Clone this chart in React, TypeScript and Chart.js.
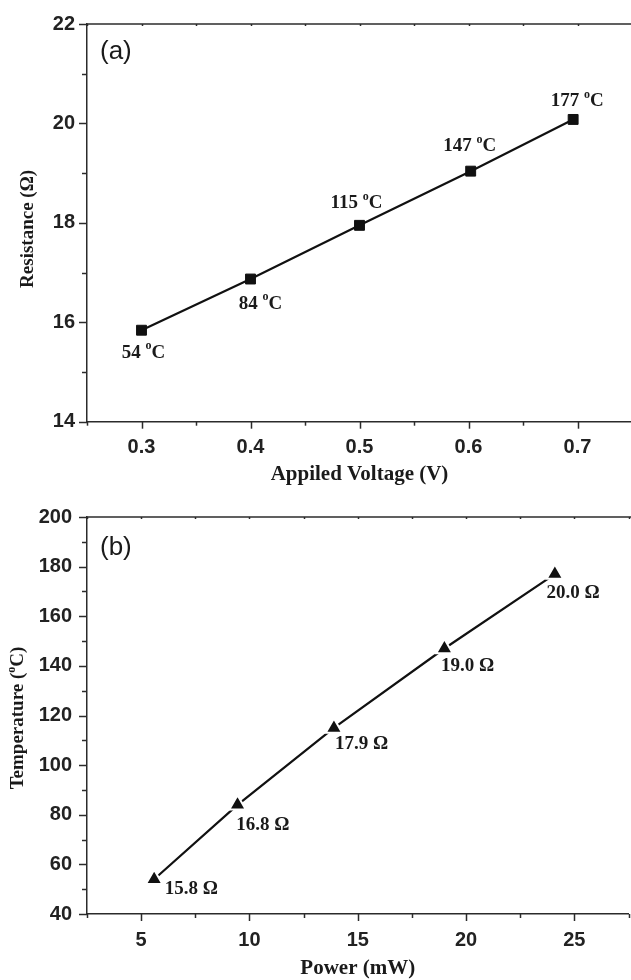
import React, { useEffect, useRef } from 'react';
import { Chart, registerables } from 'chart.js';

Chart.register(...registerables);

// ---- Panel (a): Resistance vs applied voltage ----
const voltage = [0.3, 0.4, 0.5, 0.602, 0.696];
const resistance = [15.84, 16.87, 17.95, 19.04, 20.08];
const tempLabels = ['54', '84', '115', '147', '177'];

const voltageTicks = [0.3, 0.4, 0.5, 0.6, 0.7];
const voltageTickLabels = ['0.3', '0.4', '0.5', '0.6', '0.7'];
const voltageMinor = [0.25, 0.35, 0.45, 0.55, 0.65, 0.75];
const resistanceTicks = [14, 16, 18, 20, 22];
const resistanceTickLabels = ['14', '16', '18', '20', '22'];
const resistanceMinor = [15, 17, 19, 21];

// ---- Panel (b): Temperature vs power ----
const power = [5.6, 9.45, 13.9, 19.0, 24.1];
const temperature = [54, 84, 115, 147, 177];
const resistanceLabels = ['15.8', '16.8', '17.9', '19.0', '20.0'];

const powerTicks = [5, 10, 15, 20, 25];
const powerTickLabels = ['5', '10', '15', '20', '25'];
const powerMinor = [2.5, 7.5, 12.5, 17.5, 22.5, 27.5];
const temperatureTicks = [40, 60, 80, 100, 120, 140, 160, 180, 200];
const temperatureTickLabels = ['40', '60', '80', '100', '120', '140', '160', '180', '200'];
const temperatureMinor = [50, 70, 90, 110, 130, 150, 170, 190];

const AXIS = '#2b2b2b';
const INK = '#1a1a1a';
const SERIF = '"Liberation Serif", "Times New Roman", serif';
const SANS = '"Liberation Sans", Arial, sans-serif';

type Part = { t: string; sup?: boolean };

function measureParts(ctx: CanvasRenderingContext2D, parts: Part[], size: number) {
  let w = 0;
  for (const p of parts) {
    ctx.font = `bold ${p.sup ? Math.round(size * 0.62) : size}px ${SERIF}`;
    w += ctx.measureText(p.t).width;
  }
  return w;
}

function drawParts(ctx: CanvasRenderingContext2D, parts: Part[], x: number, y: number, size: number) {
  ctx.textAlign = 'left';
  ctx.textBaseline = 'middle';
  for (const p of parts) {
    const s = p.sup ? Math.round(size * 0.62) : size;
    ctx.font = `bold ${s}px ${SERIF}`;
    ctx.fillText(p.t, x, p.sup ? y - size * 0.36 : y);
    x += ctx.measureText(p.t).width;
  }
}

function makeDecor(cfg: {
  panel: string;
  panelDy: number;
  xMajor: number[];
  xMinor: number[];
  yMajor: number[];
  yMinor: number[];
  yTitle: Part[];
  yTitleX: number;
  yTitleDy: number;
  labels: Part[][];
  labelOffsets: number[][];
  labelAnchor: 'center' | 'left';
}) {
  return {
    id: 'decor',
    afterDraw(chart: any) {
      const { ctx, chartArea: ca, scales } = chart;
      const xs = scales.x;
      const ys = scales.y;
      ctx.save();
      ctx.strokeStyle = AXIS;
      ctx.lineWidth = 1.5;
      // top frame line
      ctx.beginPath();
      ctx.moveTo(ca.left, ca.top);
      ctx.lineTo(ca.right + 10, ca.top);
      ctx.stroke();
      const yt = (vals: number[], len: number) => {
        for (const v of vals) {
          const p = Math.round(ys.getPixelForValue(v)) + 0.5;
          ctx.beginPath();
          ctx.moveTo(ca.left - len, p);
          ctx.lineTo(ca.left, p);
          ctx.stroke();
        }
      };
      const xt = (vals: number[], len: number) => {
        for (const v of vals) {
          const p = Math.round(xs.getPixelForValue(v)) + 0.5;
          ctx.beginPath();
          ctx.moveTo(p, ca.bottom);
          ctx.lineTo(p, ca.bottom + len);
          ctx.stroke();
          ctx.beginPath();
          ctx.moveTo(p, ca.top);
          ctx.lineTo(p, ca.top + 2);
          ctx.stroke();
        }
      };
      yt(cfg.yMajor, 8);
      yt(cfg.yMinor, 5);
      xt(cfg.xMajor, 7);
      xt(cfg.xMinor, 4);

      // panel letter
      ctx.fillStyle = INK;
      ctx.font = `26px ${SANS}`;
      ctx.textAlign = 'left';
      ctx.textBaseline = 'middle';
      ctx.fillText(cfg.panel, ca.left + 13, ca.top + cfg.panelDy);

      // y title (rotated)
      const ySize = 19;
      const tw = measureParts(ctx, cfg.yTitle, ySize);
      ctx.save();
      ctx.translate(cfg.yTitleX, (ca.top + ca.bottom) / 2 + cfg.yTitleDy);
      ctx.rotate(-Math.PI / 2);
      drawParts(ctx, cfg.yTitle, -tw / 2, 0, ySize);
      ctx.restore();

      // point annotations
      const meta = chart.getDatasetMeta(0);
      const lSize = 19;
      meta.data.forEach((pt: any, i: number) => {
        const parts = cfg.labels[i];
        const [dx, dy] = cfg.labelOffsets[i];
        const w = measureParts(ctx, parts, lSize);
        const x0 = cfg.labelAnchor === 'center' ? pt.x + dx - w / 2 : pt.x + dx;
        drawParts(ctx, parts, x0, pt.y + dy, lSize);
      });
      ctx.restore();
    },
  };
}

function buildChart(
  canvas: HTMLCanvasElement,
  opts: {
    xs: number[];
    ys: number[];
    xMin: number;
    xMax: number;
    yMin: number;
    yMax: number;
    xTicks: number[];
    xTickLabels: string[];
    yTicks: number[];
    yTickLabels: string[];
    xTitle: string;
    xTitlePad: number;
    padTop: number;
    xScaleHeight: number;
    yPad: number;
    pointStyle: string;
    pointRadius: number;
    pointBorderColor: string;
    pointBorderWidth: number;
    decor: any;
  }
) {
  return new Chart(canvas, {
    type: 'line',
    data: {
      datasets: [
        {
          data: opts.xs.map((x, i) => ({ x, y: opts.ys[i] })),
          borderColor: '#111',
          borderWidth: 2.2,
          backgroundColor: '#111',
          pointStyle: opts.pointStyle as any,
          pointRadius: opts.pointRadius,
          pointBackgroundColor: '#111',
          pointBorderColor: opts.pointBorderColor,
          pointBorderWidth: opts.pointBorderWidth,
          tension: 0,
          clip: false as any,
        },
      ],
    },
    options: {
      animation: false,
      responsive: false,
      devicePixelRatio: 1,
      layout: { padding: { top: opts.padTop, right: 7, left: 0, bottom: 0 } },
      plugins: { legend: { display: false }, tooltip: { enabled: false } },
      scales: {
        x: {
          type: 'linear',
          min: opts.xMin,
          max: opts.xMax,
          afterBuildTicks: (s: any) => {
            s.ticks = opts.xTicks.map((v) => ({ value: v }));
          },
          afterFit: (s: any) => {
            s.height = opts.xScaleHeight;
          },
          grid: { display: false, drawTicks: false },
          border: { display: true, color: AXIS, width: 1.5 },
          ticks: {
            padding: 14,
            color: '#222',
            font: { family: SANS, size: 20, weight: 'bold' },
            callback: (_v: any, i: number) => opts.xTickLabels[i],
          },
          title: {
            display: true,
            text: opts.xTitle,
            color: INK,
            font: { family: SERIF, size: 21, weight: 'bold' },
            padding: { top: 0, bottom: opts.xTitlePad },
          },
        },
        y: {
          type: 'linear',
          min: opts.yMin,
          max: opts.yMax,
          afterBuildTicks: (s: any) => {
            s.ticks = opts.yTicks.map((v) => ({ value: v }));
          },
          afterFit: (s: any) => {
            s.width = 87;
          },
          grid: { display: false, drawTicks: false },
          border: { display: true, color: AXIS, width: 1.5 },
          ticks: {
            padding: opts.yPad,
            color: '#222',
            font: { family: SANS, size: 20, weight: 'bold' },
            callback: (_v: any, i: number) => opts.yTickLabels[i],
          },
        },
      },
    } as any,
    plugins: [opts.decor],
  });
}

const degParts = (n: string): Part[] => [{ t: n + ' ' }, { t: 'o', sup: true }, { t: 'C' }];
const ohmParts = (n: string): Part[] => [{ t: n + ' Ω' }];

export default function App() {
  const refA = useRef<HTMLCanvasElement>(null);
  const refB = useRef<HTMLCanvasElement>(null);

  useEffect(() => {
    const a = buildChart(refA.current!, {
      xs: voltage,
      ys: resistance,
      xMin: 0.25,
      xMax: 0.75,
      yMin: 14,
      yMax: 22,
      xTicks: voltageTicks,
      xTickLabels: voltageTickLabels,
      yTicks: resistanceTicks,
      yTickLabels: resistanceTickLabels,
      xTitle: 'Appiled Voltage (V)',
      xTitlePad: 2.4,
      padTop: 18,
      xScaleHeight: 490 - 421.7,
      yPad: 12,
      pointStyle: 'rect',
      pointRadius: 7,
      pointBorderColor: '#111',
      pointBorderWidth: 1,
      decor: makeDecor({
        panel: '(a)',
        panelDy: 27.8,
        xMajor: voltageTicks,
        xMinor: voltageMinor,
        yMajor: resistanceTicks,
        yMinor: resistanceMinor,
        yTitle: [{ t: 'Resistance (Ω)' }],
        yTitleX: 28,
        yTitleDy: 6,
        labels: tempLabels.map(degParts),
        labelOffsets: [
          [2, 23],
          [10, 25],
          [-3, -22],
          [-1, -24.6],
          [4, -18],
        ],
        labelAnchor: 'center',
      }),
    });
    const b = buildChart(refB.current!, {
      xs: power,
      ys: temperature,
      xMin: 2.5,
      xMax: 27.5,
      yMin: 40,
      yMax: 200,
      xTicks: powerTicks,
      xTickLabels: powerTickLabels,
      yTicks: temperatureTicks,
      yTickLabels: temperatureTickLabels,
      xTitle: 'Power (mW)',
      xTitlePad: 8.9,
      padTop: 19.3,
      xScaleHeight: 500 - 424,
      yPad: 15,
      pointStyle: 'triangle',
      pointRadius: 9.5,
      pointBorderColor: '#ffffff',
      pointBorderWidth: 2,
      decor: makeDecor({
        panel: '(b)',
        panelDy: 30.7,
        xMajor: powerTicks,
        xMinor: powerMinor,
        yMajor: temperatureTicks,
        yMinor: temperatureMinor,
        yTitle: [{ t: 'Temperature (' }, { t: 'o', sup: true }, { t: 'C)' }],
        yTitleX: 18.3,
        yTitleDy: 2.5,
        labels: resistanceLabels.map(ohmParts),
        labelOffsets: [
          [10.7, 10],
          [-1.3, 20.6],
          [1, 16],
          [-3.3, 17.7],
          [-8.3, 18.7],
        ],
        labelAnchor: 'left',
      }),
    });
    return () => {
      a.destroy();
      b.destroy();
    };
  }, []);

  return (
    <div
      style={{
        position: 'absolute',
        left: 0,
        top: 0,
        width: 631,
        height: 980,
        overflow: 'hidden',
        background: '#fff',
      }}
    >
      <canvas
        ref={refA}
        width={640}
        height={490}
        style={{ position: 'absolute', left: 0, top: 0, width: 640, height: 490 }}
      />
      <canvas
        ref={refB}
        width={640}
        height={500}
        style={{ position: 'absolute', left: 0, top: 490, width: 640, height: 500 }}
      />
    </div>
  );
}
